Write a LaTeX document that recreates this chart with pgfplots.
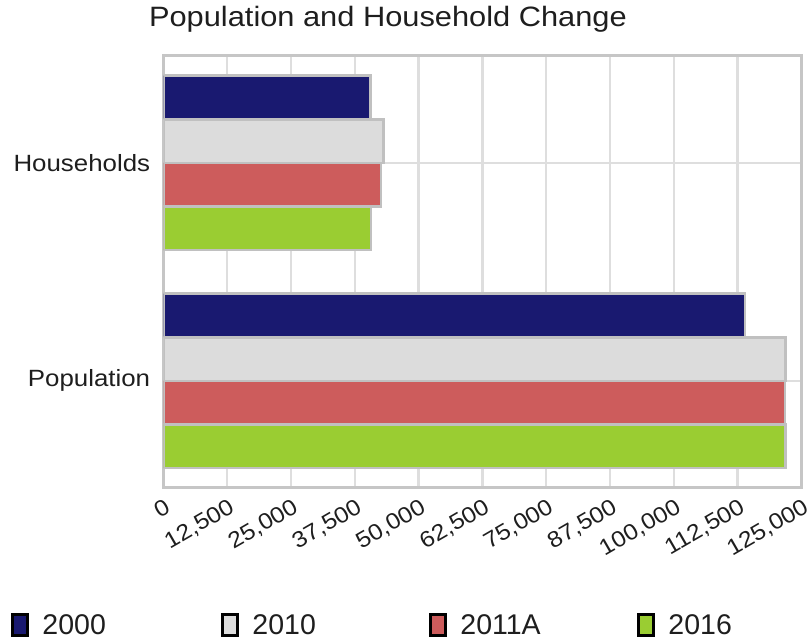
\documentclass[border=0pt]{standalone}
\usepackage{fontspec}
\setmainfont{Liberation Sans}[FakeStretch=1.1]
\newfontfamily\legfont{Liberation Sans}
\usepackage{pgfplots}
\pgfplotsset{compat=1.18}
\definecolor{c2000}{HTML}{191970}
\definecolor{c2010}{HTML}{DCDCDC}
\definecolor{c2011}{HTML}{CD5C5C}
\definecolor{c2016}{HTML}{9ACD32}
\definecolor{framec}{HTML}{C6C6C6}
\definecolor{gridc}{HTML}{DEDEDE}
\definecolor{barb}{HTML}{C0C0C0}
\definecolor{txt}{HTML}{1E1E1E}
\begin{document}
\begin{tikzpicture}
\useasboundingbox (0,0) rectangle (811pt,-641pt);
\begin{axis}[
  at={(163.3pt,-487.7pt)}, anchor=south west,
  scale only axis, width=638.2pt, height=432.7pt,
  xmin=0, xmax=125000, ymin=-0.49, ymax=1.495,
  xtick={0,12500,25000,37500,50000,62500,75000,87500,100000,112500,125000},
  scaled x ticks=false,
  xmajorgrids, ymajorgrids,
  major grid style={gridc, line width=2.5pt},
  axis line style={framec, line width=3pt},
  major tick length=0pt,
  ytick={0,1}, yticklabels={Population,Households},
  yticklabel style={font=\fontsize{23.5}{26}\selectfont, text=txt, inner sep=0pt, anchor=east, xshift=-13pt},
  xticklabel style={font=\fontsize{22.5}{25}\selectfont, text=txt, inner sep=0pt, outer sep=0pt, yshift=-10pt, xshift=0.5pt, rotate=30, anchor=north east,
    /pgf/number format/fixed, /pgf/number format/1000 sep={,}, /pgf/number format/assume math mode=true},
  title={Population and Household Change},
  title style={at={(0.352,1.0531)}, anchor=base, font=\fontsize{28}{32}\selectfont, text=txt, inner sep=0pt},
  bar width=0.2,
  legend columns=4,
  legend cell align=left,
  legend style={draw=none, fill=none, at={(-0.2379,-0.3173)}, anchor=west, inner sep=0pt, outer sep=0pt,
    font=\legfont\fontsize{28.5}{30}\selectfont, text=txt,
    /tikz/every odd column/.append style={column sep=13pt},
    /tikz/every even column/.append style={column sep=0pt},
    nodes={inner sep=0pt, outer sep=0pt}},
]
\addplot[xbar, bar shift=0.3, fill=c2000, draw=barb, line width=2.5pt,
  legend image code/.code={\draw[black, line width=3pt, fill=c2000] (0pt,-10.5pt) rectangle (15pt,10.5pt);}]
  coordinates {(40600,1) (113900,0)};
\addlegendentry{\makebox[179pt][l]{2000}}
\addplot[xbar, bar shift=0.1, fill=c2010, draw=barb, line width=2.5pt,
  legend image code/.code={\draw[black, line width=3pt, fill=c2010] (0pt,-10.5pt) rectangle (15pt,10.5pt);}]
  coordinates {(43100,1) (121900,0)};
\addlegendentry{\makebox[177pt][l]{2010}}
\addplot[xbar, bar shift=-0.1, fill=c2011, draw=barb, line width=2.5pt,
  legend image code/.code={\draw[black, line width=3pt, fill=c2011] (0pt,-10.5pt) rectangle (15pt,10.5pt);}]
  coordinates {(42650,1) (121800,0)};
\addlegendentry{\makebox[177pt][l]{2011A}}
\addplot[xbar, bar shift=-0.3, fill=c2016, draw=barb, line width=2.5pt,
  legend image code/.code={\draw[black, line width=3pt, fill=c2016] (0pt,-10.5pt) rectangle (15pt,10.5pt);}]
  coordinates {(40650,1) (121850,0)};
\addlegendentry{2016}
\end{axis}
\end{tikzpicture}
\end{document}
